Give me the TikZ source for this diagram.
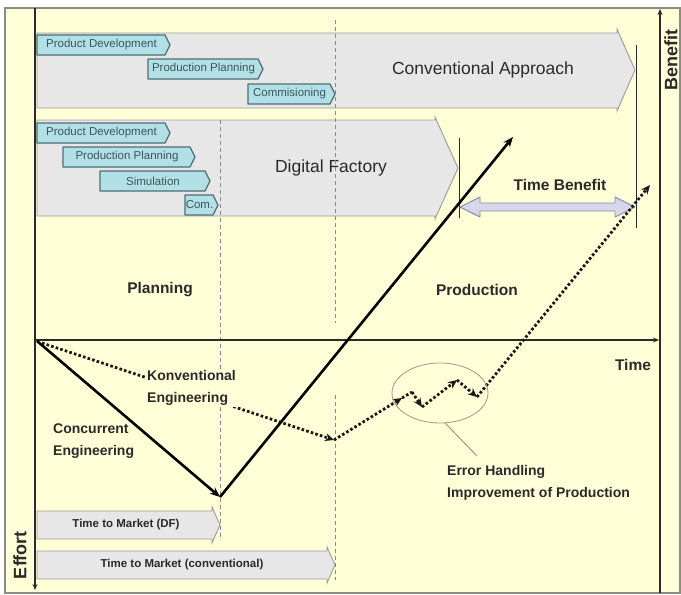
\documentclass[tikz,border=0pt]{standalone}
\usepackage{fontspec}
\setmainfont{Liberation Sans}
\usetikzlibrary{arrows.meta,shapes.geometric}
\definecolor{bg}{HTML}{FFFFD8}
\definecolor{framegray}{HTML}{8C8C84}
\definecolor{arrgray}{HTML}{E7E7E7}
\definecolor{arrline}{HTML}{9A9A96}
\definecolor{boxfill}{HTML}{B2E0E6}
\definecolor{boxline}{HTML}{4E6E74}
\definecolor{boxtext}{HTML}{3A565C}
\definecolor{txtdark}{HTML}{2A2A2A}
\definecolor{tbfill}{HTML}{D6D6EC}
\definecolor{tbline}{HTML}{8A8AA0}
\definecolor{ellgray}{HTML}{9A9A8A}
\definecolor{sepgray}{HTML}{8A8A86}
\tikzset{
  bigarr/.style={fill=arrgray, draw=arrline, line width=0.9pt},
  smallbox/.style={fill=boxfill, draw=boxline, line width=1.2pt, line join=round},
  smalltext/.style={text=boxtext, font=\fontsize{11.5}{12}\selectfont, inner sep=0pt},
  lbl/.style={font=\fontsize{15.5}{17}\selectfont\bfseries, text=txtdark, inner sep=1pt},
  lbl2/.style={font=\fontsize{14}{22}\selectfont\bfseries, text=txtdark, align=left, inner sep=1pt},
  ttm/.style={font=\fontsize{11.5}{13}\selectfont\bfseries, text=txtdark, inner sep=0pt},
  bigtxt/.style={font=\fontsize{17.5}{20}\selectfont, text=txtdark},
  axistxt/.style={font=\fontsize{18}{20}\selectfont\bfseries, text=txtdark, rotate=90},
  sepline/.style={draw=sepgray, dash pattern=on 4pt off 3pt, line width=0.8pt},
  vline/.style={draw=txtdark, line width=1pt},
  axis/.style={draw=txtdark, line width=1.2pt, -{Stealth[length=6pt,width=5pt]}},
  solidln/.style={draw=black, line width=2.6pt, -{Stealth[length=10pt,width=8pt]}},
  dotln/.style={draw=black!90, line width=2.8pt, dash pattern=on 2.6pt off 2.2pt, -{Stealth[length=9pt,width=8pt]}},
  dotplain/.style={draw=black!90, line width=2.8pt, dash pattern=on 2.6pt off 2.2pt},
}
\newcommand\tagbox[5]{%
  \draw[smallbox] (#2,#4-10) -- (#3-5,#4-10) -- (#3,#4) -- (#3-5,#4+10) -- (#2,#4+10) -- cycle;
  \node[smalltext] (#1) at ({(#2+#3)/2-2},#4) {#5};}
\begin{document}
\begin{tikzpicture}[x=1pt,y=-1pt]
\useasboundingbox (0,0) rectangle (681,595);
\fill[white] (0,0) rectangle (681,595);
\draw[draw=framegray, line width=1.5pt, fill=bg] (5,8) rectangle (680,593);

% big arrows
\draw[bigarr] (37,33) -- (617,33) -- (617,29) -- (635,70) -- (617,111) -- (617,108) -- (37,108) -- cycle;
\draw[bigarr] (37,120) -- (435,120) -- (435,117) -- (458,168) -- (435,219) -- (435,216) -- (37,216) -- cycle;
\draw[bigarr] (37,511) -- (212,511) -- (212,507) -- (220,525) -- (212,543) -- (212,539) -- (37,539) -- cycle;
\draw[bigarr] (37,551) -- (327,551) -- (327,547) -- (335,565) -- (327,583) -- (327,579) -- (37,579) -- cycle;

\node[bigtxt] (conv) at (483,70) {Conventional Approach};
\node[bigtxt] (df) at (331,168) {Digital Factory};
\node[ttm] (ttmdf) at (126,525) {Time to Market (DF)};
\node[ttm] (ttmconv) at (182,565) {Time to Market (conventional)};

% small boxes
\tagbox{pd1}{37}{170}{45}{Product Development}
\tagbox{pp1}{148}{263}{69}{Production Planning}
\tagbox{cm1}{248}{335}{94}{Commisioning}
\tagbox{pd2}{37}{170}{133}{Product Development}
\tagbox{pp2}{63}{195}{157}{Production Planning}
\tagbox{sim}{100}{210}{181}{Simulation}
\tagbox{com}{185}{218}{205}{Com.}

% dashed separators
\coordinate (s1t) at (220,120);
\coordinate (s1b) at (220,540);
\coordinate (s2t) at (335,20);
\coordinate (s2m) at (335,323);
\coordinate (s2n) at (335,395);
\coordinate (s2b) at (335,580);
\draw[sepline] (s1t) -- (s1b);
\draw[sepline] (s2t) -- (s2m);
\draw[sepline] (s2n) -- (s2b);

% vertical markers
\coordinate (m1t) at (459,138);
\coordinate (m1b) at (459,218);
\coordinate (m2t) at (636,45);
\coordinate (m2b) at (636,228);
\draw[vline] (m1t) -- (m1b);
\draw[vline] (m2t) -- (m2b);

% time benefit
\coordinate (tbL) at (460,207);
\coordinate (tbR) at (635,207);
\draw[fill=tbfill, draw=tbline, line width=0.9pt, line join=round]
  (tbL) -- ++(20,-10) -- ++(0,6) -- ++(135,0) -- ++(0,-6) -- (tbR)
  -- ++(-20,10) -- ++(0,-6) -- ++(-135,0) -- ++(0,6) -- cycle;
\node[lbl] (tb) at (560,185) {Time Benefit};

% axes
\coordinate (O) at (35,340);
\coordinate (T) at (659,340);
\coordinate (ytop) at (35,8);
\coordinate (ybot) at (35,590);
\coordinate (btop) at (660,9);
\coordinate (bbot) at (660,593);
\draw[draw=txtdark, line width=1.2pt] (ytop) -- (O);
\draw[axis] (O) -- (ybot);
\draw[axis] (bbot) -- (btop);
\draw[axis] (O) -- (T);

\node[axistxt] (ben) at (671,60) {Benefit};
\node[axistxt] (eff) at (20,555) {Effort};
\node[lbl] (time) at (633,365) {Time};
\node[lbl] (plan) at (160,290) {Planning};
\node[lbl] (prod) at (477,290) {Production};

% dotted conventional path
\coordinate (D0) at (42,343);
\coordinate (D1) at (334,440);
\coordinate (D2) at (402,398);
\coordinate (D3) at (412,392);
\coordinate (D4) at (422,407);
\coordinate (D5) at (457,380);
\coordinate (D6) at (477,397);
\coordinate (D7) at (650,185);
\draw[dotln] (D0) -- (D1);
\draw[dotln] (D1) -- (D2);
\draw[dotplain] (D2) -- (D3);
\draw[dotln] (D3) -- (D4);
\draw[dotln] (D4) -- (D5);
\draw[dotln] (D5) -- (D6);
\draw[dotln] (D6) -- (D7);

% solid concurrent path
\coordinate (C0) at (37,341);
\coordinate (CV) at (220,497);
\coordinate (CE) at (513,137);
\draw[solidln] (C0) -- (CV);
\draw[solidln] (CV) -- (CE);

% labels
\node[lbl2, fill=bg, anchor=west] (konv) at (146,388) {Konventional\\Engineering};
\node[lbl2, anchor=west] (conc) at (52,441) {Concurrent\\Engineering};

% error handling
\node[ellipse, draw=ellgray, line width=0.8pt, minimum width=96pt, minimum height=60pt, inner sep=0pt] (eh) at (440,393) {};
\node[lbl2, anchor=west] (err) at (446,483) {Error Handling\\Improvement of Production};
\coordinate (lead) at (477,456);
\draw[draw=ellgray, line width=1pt] (eh.-80) -- (lead);
\end{tikzpicture}
\end{document}
